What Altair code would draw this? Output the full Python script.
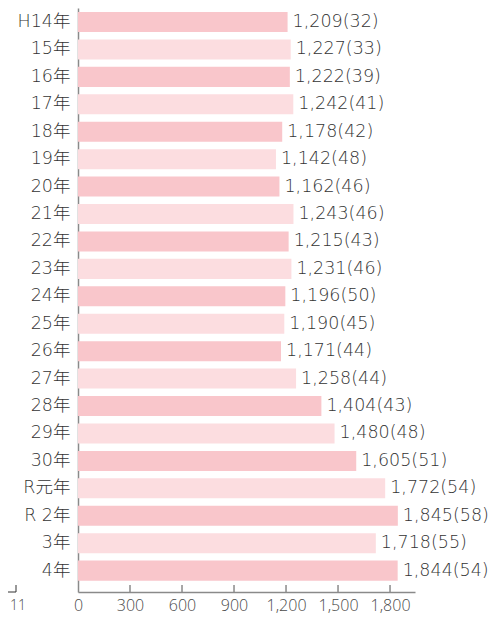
import altair as alt
import pandas as pd

years = ["H14年", "15年", "16年", "17年", "18年", "19年", "20年", "21年", "22年", "23年",
         "24年", "25年", "26年", "27年", "28年", "29年", "30年", "R元年", "R 2年", "3年", "4年"]
values = [1209, 1227, 1222, 1242, 1178, 1142, 1162, 1243, 1215, 1231,
          1196, 1190, 1171, 1258, 1404, 1480, 1605, 1772, 1845, 1718, 1844]
paren = [32, 33, 39, 41, 42, 48, 46, 46, 43, 46,
         50, 45, 44, 44, 43, 48, 51, 54, 58, 55, 54]
x_ticks = [0, 300, 600, 900, 1200, 1500, 1800]

FONT_W = "'DejaVu Sans', 'Noto Sans CJK JP', sans-serif"
FONT_T = "'Open Sans', 'Noto Sans CJK JP', sans-serif"
TXT = "#4a4a4a"
TXT_W = "#333333"
AXC = "#8a8a8a"

df = pd.DataFrame({
    "year": years,
    "value": values,
    "label": [f"{v:,}({p})" for v, p in zip(values, paren)],
    "shade": ["a" if i % 2 == 0 else "b" for i in range(len(years))],
})

W, H = 337, 584

xscale = alt.Scale(domain=[0, 1944], nice=False, zero=True)
yscale = alt.Scale(domain=years, paddingInner=0.27, paddingOuter=0.28, align=0.26)

base = alt.Chart(df)

bars = base.mark_bar().encode(
    x=alt.X("value:Q", scale=xscale,
            axis=alt.Axis(title=None, values=x_ticks, format=",d", ticks=False,
                          domainColor=AXC, domainWidth=1.5, labelFont=FONT_T,
                          labelFontSize=16, labelFontWeight=300, labelColor=TXT,
                          labelPadding=5, grid=False, labelFlush=False)),
    y=alt.Y("year:N", scale=yscale, sort=years,
            axis=alt.Axis(title=None, ticks=False, domainColor=AXC, domainWidth=1.5,
                          labelFont=FONT_W, labelFontSize=17.5, labelFontWeight=300,
                          labelColor=TXT_W, labelPadding=8)),
    color=alt.Color("shade:N", scale=alt.Scale(domain=["a", "b"], range=["#f9c6cb", "#fcdde0"]),
                    legend=None),
)

labels = base.mark_text(align="left", baseline="middle", dx=5, font=FONT_W,
                        fontSize=17.5, fontWeight=300, color=TXT_W).encode(
    x=alt.X("value:Q", scale=xscale),
    y=alt.Y("year:N", scale=yscale, sort=years),
    text="label:N",
)

tick_df = pd.DataFrame({"t": x_ticks[1:]})
ticks = alt.Chart(tick_df).mark_rule(color=AXC, strokeWidth=1.5).encode(
    x=alt.X("t:Q", scale=xscale),
    y=alt.value(H - 7),
    y2=alt.value(H),
)

page_df = pd.DataFrame({"p": ["11"]})
page_num = alt.Chart(page_df).mark_text(font=FONT_T, fontSize=14, fontWeight=300, color=TXT,
                                        align="center", baseline="middle").encode(
    text="p:N", x=alt.value(-60), y=alt.value(598))
bracket_h = alt.Chart(page_df).mark_rule(color="#333333", strokeWidth=1).encode(
    x=alt.value(-72), x2=alt.value(-62), y=alt.value(584))
bracket_v = alt.Chart(page_df).mark_rule(color="#333333", strokeWidth=1).encode(
    x=alt.value(-62), y=alt.value(577), y2=alt.value(584))

chart = alt.layer(bars, labels, ticks, page_num, bracket_h, bracket_v).properties(
    width=W, height=H, autosize="none",
    padding={"left": 70, "top": 0, "right": 73, "bottom": 28},
).configure_view(stroke=None)

chart.save("out.html", embed_options={"renderer": "svg", "actions": False})
